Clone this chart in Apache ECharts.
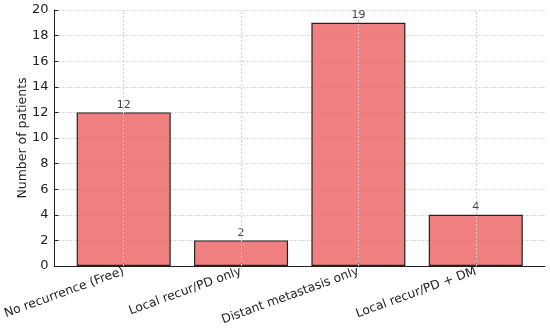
<!DOCTYPE html>
<html><head><meta charset="utf-8">
<script src="https://cdn.jsdelivr.net/npm/echarts@6/dist/echarts.min.js"></script>
<style>html,body{margin:0;padding:0;background:#fff}#c{width:550px;height:329px}</style>
</head><body><div id="c"></div>
<script>
const categories = ["No recurrence (Free)", "Local recur/PD only", "Distant metastasis only", "Local recur/PD + DM"];
const patients = [12, 2, 19, 4];
const yTicks = [0, 2, 4, 6, 8, 10, 12, 14, 16, 18, 20];

const chart = echarts.init(document.getElementById('c'), null, {renderer: 'canvas'});
const font = 'DejaVu Sans';
const catIdx = categories.map((c, i) => i);
const gridStyle = {color: '#cfcfcf', type: [2, 2], width: 1};
chart.setOption({
  animation: false,
  grid: {left: 51, right: 5, top: 10, bottom: 63},
  xAxis: {
    type: 'value', min: -0.59, max: 3.59,
    axisLine: {show: true, onZero: false, lineStyle: {color: '#222', width: 1}},
    axisTick: {show: true, inside: true, length: 4, customValues: catIdx, lineStyle: {color: '#222'}},
    axisLabel: {show: true, customValues: catIdx, rotate: 20, margin: 5,
      fontFamily: font, fontSize: 12.3, color: '#222',
      formatter: v => categories[Math.round(v)] || ''},
    splitLine: {show: false}
  },
  yAxis: {
    type: 'value', min: 0, max: 20, interval: 2,
    name: 'Number of patients', nameLocation: 'middle', nameGap: 25, nameMoveOverlap: false,
    nameTextStyle: {fontFamily: font, fontSize: 12.5, color: '#222'},
    axisLine: {show: true, onZero: false, lineStyle: {color: '#222', width: 1}},
    axisTick: {show: true, inside: true, length: 4, lineStyle: {color: '#222'}},
    axisLabel: {fontFamily: font, fontSize: 13, color: '#222', margin: 6, customValues: yTicks},
    splitLine: {show: true, lineStyle: gridStyle}
  },
  series: [{
    type: 'line', data: [], z: 1, silent: true,
    markLine: {silent: true, symbol: 'none', label: {show: false},
      lineStyle: gridStyle,
      data: catIdx.map(i => ({xAxis: i}))}
  }, {
    type: 'bar', z: 2,
    data: patients.map((v, i) => [i, v]),
    barWidth: 94,
    itemStyle: {color: 'rgba(237,106,106,0.85)', borderColor: '#222', borderWidth: 1.2},
    label: {show: true, position: 'top', distance: 2, fontFamily: font, fontSize: 11, color: '#444',
      formatter: p => String(p.value[1])}
  }]
});
</script></body></html>
